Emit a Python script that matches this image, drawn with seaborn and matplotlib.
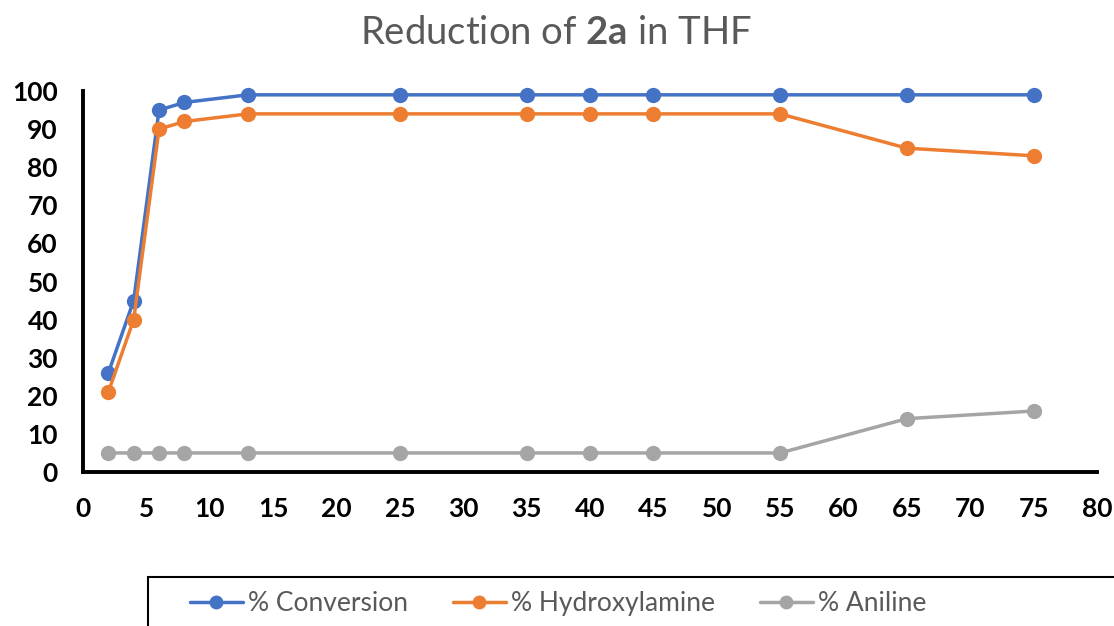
import matplotlib
matplotlib.use("Agg")
import matplotlib.pyplot as plt
from matplotlib.patches import Rectangle
import pandas as pd
import seaborn as sns

# Reaction time points and yields (%)
time_points = [2, 4, 6, 8, 13, 25, 35, 40, 45, 55, 65, 75]
conversion = [26, 45, 95, 97, 99, 99, 99, 99, 99, 99, 99, 99]
hydroxylamine = [21, 40, 90, 92, 94, 94, 94, 94, 94, 94, 85, 83]
aniline = [5, 5, 5, 5, 5, 5, 5, 5, 5, 5, 14, 16]

series_names = ["% Conversion", "% Hydroxylamine", "% Aniline"]
series_colors = ["#4472C4", "#ED7D31", "#A5A5A5"]
x_ticks = list(range(0, 85, 5))
y_ticks = list(range(0, 110, 10))

df = pd.concat([
    pd.DataFrame({"time": time_points, "value": vals, "series": name})
    for name, vals in zip(series_names, [conversion, hydroxylamine, aniline])
])

sns.set_theme(style="white")
plt.rcParams["font.family"] = ["Lato", "DejaVu Sans"]
plt.rcParams["mathtext.fontset"] = "custom"
plt.rcParams["mathtext.rm"] = "Lato"
plt.rcParams["mathtext.bf"] = "Lato:bold"

fig = plt.figure(figsize=(11.14, 6.26), dpi=100)
ax = fig.add_axes([0.0745, 0.246, 0.9102, 0.6086])

sns.lineplot(data=df, x="time", y="value", hue="series", hue_order=series_names,
             palette=series_colors, marker="o", markersize=11, markeredgewidth=0,
             linewidth=2.5, ax=ax, legend=False)
for line in ax.lines:
    line.set_clip_on(False)

ax.set_xlim(0, 80)
ax.set_ylim(0, 100)
ax.set_xticks(x_ticks)
ax.set_yticks(y_ticks)
ax.set_xlabel("")
ax.set_ylabel("")
ax.tick_params(axis="both", which="major", direction="out", length=7, width=2.5,
               color="black", labelsize=19, labelcolor="black")
ax.tick_params(axis="x", pad=11)
ax.tick_params(axis="y", pad=11)
for lbl in ax.get_xticklabels() + ax.get_yticklabels():
    lbl.set_fontweight("bold")
for side in ["top", "right"]:
    ax.spines[side].set_visible(False)
for side in ["left", "bottom"]:
    ax.spines[side].set_color("black")
    ax.spines[side].set_linewidth(2.8)

fig.text(0.499, 0.947, r"Reduction of $\mathbf{2a}$ in THF", ha="center", va="center",
         fontsize=27.5, color="#595959")

# Legend frame running off the lower right of the canvas
fig.patches.append(Rectangle((0.1325, -0.05), 0.9, 0.128, transform=fig.transFigure,
                             facecolor="white", edgecolor="black", linewidth=1.5))
handles = [plt.Line2D([], [], color=c, linewidth=2.5, marker="o", markersize=10,
                      markeredgewidth=0) for c in series_colors]
leg = fig.legend(handles, series_names, loc="center left", bbox_to_anchor=(0.1706, 0.036),
                 ncol=3, frameon=False, fontsize=19, handlelength=2.0, handletextpad=0.2,
                 columnspacing=1.7, borderpad=0, borderaxespad=0)
for t in leg.get_texts():
    t.set_color("#595959")

fig.savefig("out.png", dpi=100)
